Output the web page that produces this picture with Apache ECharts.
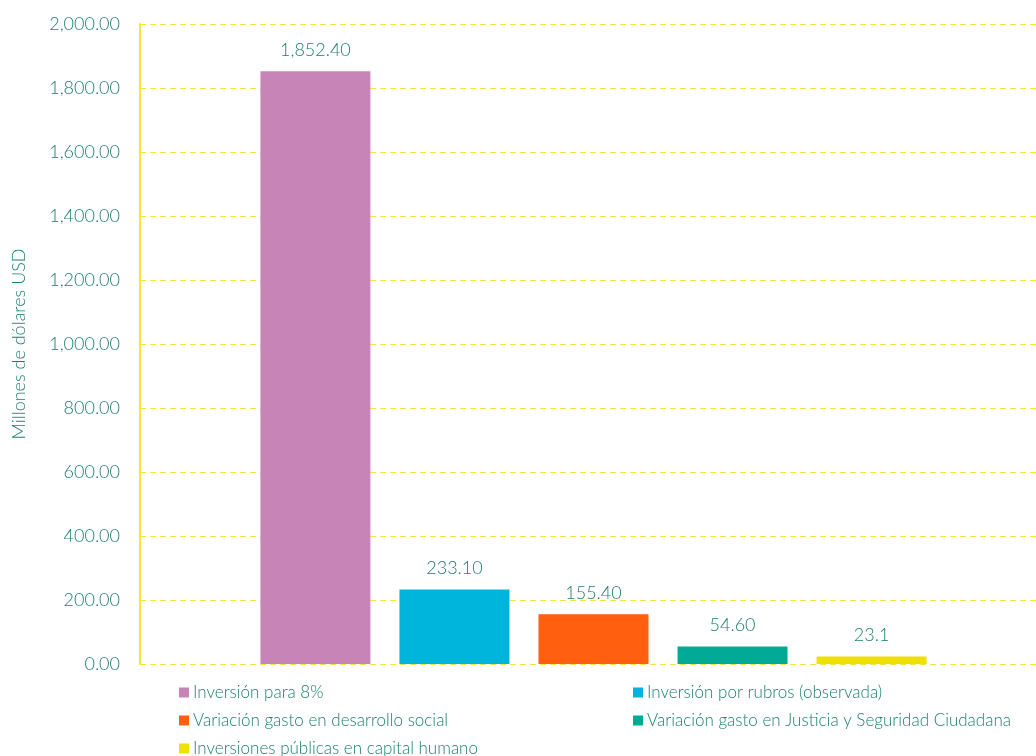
<!DOCTYPE html>
<html><head><meta charset="utf-8">
<script src="https://cdn.jsdelivr.net/npm/echarts@6/dist/echarts.min.js"></script>
<style>html,body{margin:0;padding:0;background:#fff}#c{width:1036px;height:756px}</style>
</head><body><div id="c"></div>
<script>
const seriesNames = [
  "Inversión para 8%",
  "Inversión por rubros (observada)",
  "Variación gasto en desarrollo social",
  "Variación gasto en Justicia y Seguridad Ciudadana",
  "Inversiones públicas en capital humano"
];
const seriesValues = [1852.40, 233.10, 155.40, 54.60, 23.1];
const valueLabels = ["1,852.40", "233.10", "155.40", "54.60", "23.1"];
const seriesColors = ["#C785B7", "#00B5DC", "#FF5F0F", "#00AA97", "#EEE000"];
const yTicks = { min: 0, max: 2000, interval: 200 };

const textColor = "#1B7F6F";
const font = "Lato";
const fw = 300;
const chart = echarts.init(document.getElementById('c'));

const legendPos = [
  {left: 179, top: 684}, {left: 633, top: 684},
  {left: 179, top: 712}, {left: 633, top: 712},
  {left: 179, top: 740}
];

const option = {
  animation: false,
  grid: [
    { left: 140, right: 0, top: 24, bottom: 92, containLabel: false },
    { left: 151, right: 0, top: 24, bottom: 92, containLabel: false }
  ],
  xAxis: [
    { gridIndex: 0, type: 'category', data: [''], show: false },
    { gridIndex: 1, type: 'category', data: [''],
      axisLine: { show: false }, axisTick: { show: false }, axisLabel: { show: false } }
  ],
  yAxis: [
    {
      gridIndex: 0, type: 'value', min: yTicks.min, max: yTicks.max, interval: yTicks.interval,
      name: 'Millones de dólares USD', nameLocation: 'middle', nameGap: 112,
      nameTextStyle: { color: textColor, fontSize: 18, fontFamily: font, fontWeight: fw },
      axisLine: { show: true, lineStyle: { color: '#F5E63C', width: 2 } },
      axisTick: { show: false },
      axisLabel: {
        color: textColor, fontSize: 18, fontFamily: font, fontWeight: fw, margin: 20,
        formatter: v => v.toLocaleString('en-US', {minimumFractionDigits: 2, maximumFractionDigits: 2})
      },
      splitLine: { show: true, lineStyle: { color: '#F5E63C', type: [6, 4], width: 1 } }
    },
    {
      gridIndex: 1, type: 'value', min: yTicks.min, max: yTicks.max, interval: yTicks.interval,
      show: false, splitLine: { show: false }
    }
  ],
  legend: legendPos.map((p, i) => ({
    left: p.left, top: p.top, padding: 0, data: [seriesNames[i]],
    icon: 'rect', itemWidth: 10, itemHeight: 10, itemGap: 6,
    textStyle: { color: textColor, fontSize: 17, fontFamily: font, fontWeight: fw, padding: [0, 0, 0, -1] }
  })),
  series: seriesNames.map((n, i) => ({
    name: n, type: 'bar', data: [seriesValues[i]],
    xAxisIndex: 1, yAxisIndex: 1,
    barWidth: 110, barGap: '26.4%',
    itemStyle: { color: seriesColors[i] },
    label: {
      show: true, position: 'top', distance: 12,
      color: textColor, fontSize: 18, fontFamily: font, fontWeight: fw,
      formatter: () => valueLabels[i]
    }
  }))
};
chart.setOption(option);
</script></body></html>
